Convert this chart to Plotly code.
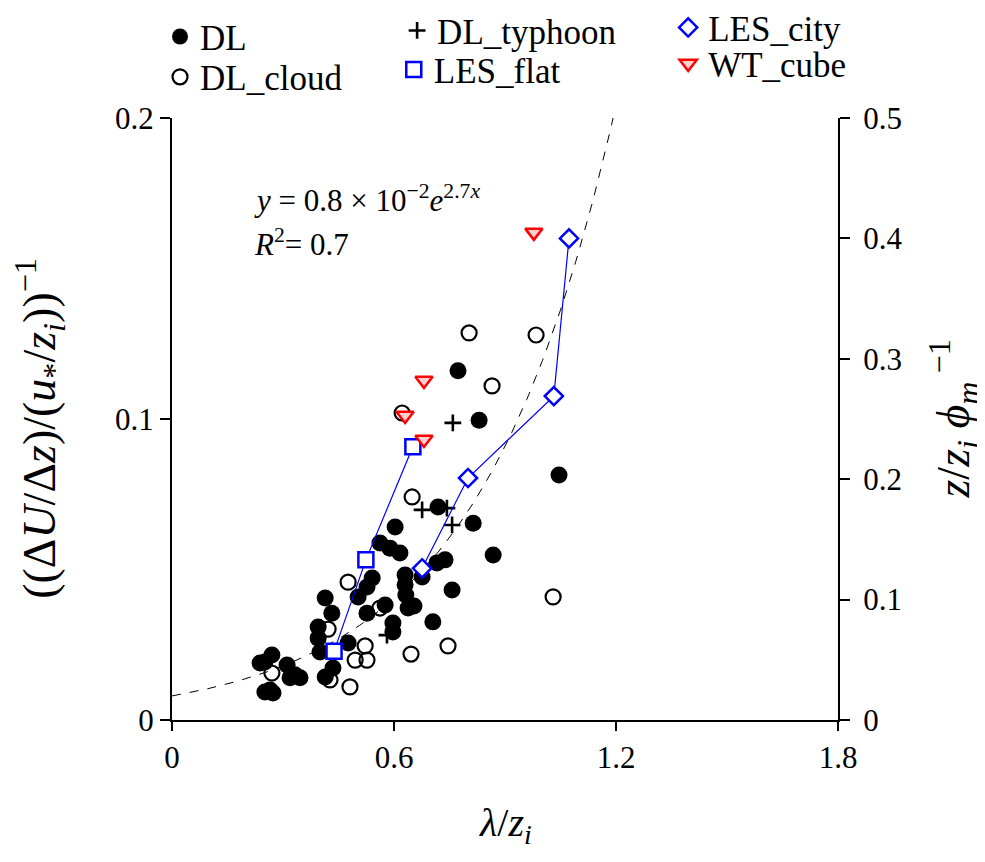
import numpy as np
import plotly.graph_objects as go

# ---------------- data ----------------
dl_x = [0.773, 0.830, 1.046, 0.814, 0.868, 0.757, 0.738, 0.716, 0.705, 0.719,
        0.603, 0.562, 0.589, 0.616, 0.630, 0.630, 0.632, 0.676, 0.638, 0.654,
        0.597, 0.597, 0.576, 0.541, 0.527, 0.503, 0.527, 0.476, 0.414, 0.432,
        0.395, 0.395, 0.400, 0.435, 0.414, 0.270, 0.251, 0.238, 0.311, 0.332,
        0.346, 0.319, 0.265, 0.251, 0.273]
dl_y = [0.116, 0.0996, 0.0814, 0.0654, 0.0548, 0.0432, 0.0532, 0.0522, 0.0326, 0.0708,
        0.0641, 0.0588, 0.0571, 0.0555, 0.0482, 0.0449, 0.0415, 0.0475, 0.0372, 0.0379,
        0.0322, 0.0292, 0.0382, 0.0472, 0.0442, 0.0409, 0.0355, 0.0256, 0.0405, 0.0355,
        0.0309, 0.0272, 0.0226, 0.0173, 0.0143, 0.0216, 0.0193, 0.0189, 0.0183, 0.0150,
        0.0140, 0.0140, 0.0100, 0.0093, 0.0090]

cloud_x = [0.270, 0.422, 0.427, 0.476, 0.481, 0.495, 0.527, 0.522, 0.562, 0.646,
           0.746, 0.649, 0.622, 0.803, 0.984, 0.865, 1.030]
cloud_y = [0.0156, 0.0302, 0.0133, 0.0458, 0.0110, 0.0199, 0.0199, 0.0246, 0.0372, 0.0219,
           0.0246, 0.0741, 0.102, 0.1286, 0.1279, 0.111, 0.0409]

typhoon_x = [0.676, 0.743, 0.757, 0.759, 0.581]
typhoon_y = [0.0698, 0.0704, 0.0648, 0.0987, 0.0282]

# right-axis series (z/z_i phi_m^-1)
les_flat_x = [0.438, 0.524, 0.651]
les_flat_y = [0.057, 0.133, 0.227]
les_city_x = [0.676, 0.800, 1.032, 1.073]
les_city_y = [0.126, 0.201, 0.269, 0.400]
wt_x = [0.630, 0.681, 0.681, 0.978]
wt_y = [0.253, 0.282, 0.233, 0.405]

# fitted curve y = a * exp(b x)
fit_a, fit_b = 0.8e-2, 2.7
fit_x = np.linspace(0, 1.2, 200)
fit_y = fit_a * np.exp(fit_b * fit_x)

SERIF = "Liberation Serif"

fig = go.Figure()

fig.add_trace(go.Scatter(x=fit_x, y=fit_y, mode="lines", showlegend=False,
                         line=dict(color="black", width=1, dash="dash"), hoverinfo="skip"))

fig.add_trace(go.Scatter(x=dl_x, y=dl_y, mode="markers", name="DL", legend="legend",
                         marker=dict(symbol="circle", size=17, color="black")))
fig.add_trace(go.Scatter(x=cloud_x, y=cloud_y, mode="markers", name="DL_cloud", legend="legend2",
                         marker=dict(symbol="circle-open", size=15, color="black",
                                     line=dict(width=2.2, color="black"))))
fig.add_trace(go.Scatter(x=typhoon_x, y=typhoon_y, mode="markers", name="DL_typhoon", legend="legend3",
                         marker=dict(symbol="cross-thin", size=12, color="black",
                                     line=dict(width=2.6, color="black"))))

# lines for LES series (right axis)
fig.add_trace(go.Scatter(x=les_flat_x, y=les_flat_y, mode="lines", yaxis="y2", showlegend=False,
                         line=dict(color="blue", width=1.2), hoverinfo="skip"))
fig.add_trace(go.Scatter(x=les_city_x, y=les_city_y, mode="lines", yaxis="y2", showlegend=False,
                         line=dict(color="blue", width=1.2), hoverinfo="skip"))

fig.add_trace(go.Scatter(x=les_flat_x, y=les_flat_y, mode="markers", name="LES_flat", yaxis="y2",
                         legend="legend4",
                         marker=dict(symbol="square", size=15, color="white",
                                     line=dict(width=2.5, color="blue"))))
fig.add_trace(go.Scatter(x=les_city_x, y=les_city_y, mode="markers", name="LES_city", yaxis="y2",
                         legend="legend5",
                         marker=dict(symbol="diamond", size=14, color="white",
                                     line=dict(width=2.5, color="blue"))))
fig.add_trace(go.Scatter(x=wt_x, y=wt_y, mode="markers", name="WT_cube", yaxis="y2",
                         legend="legend6",
                         marker=dict(symbol="triangle-down", size=15, color="#ffd0d0",
                                     line=dict(width=2.5, color="red"))))

axis_common = dict(showgrid=False, zeroline=False, showline=True, linecolor="black",
                   linewidth=2, ticks="outside", tickcolor="black", tickwidth=2,
                   tickfont=dict(family=SERIF, size=31, color="black"))

legend_common = dict(font=dict(family=SERIF, size=35, color="black"), bgcolor="rgba(0,0,0,0)",
                     orientation="v", yanchor="middle", xanchor="left", itemwidth=30)

# the page body adds an 8 px offset; size the figure so the plot area lands where the reference has it
fig.update_layout(
    width=977, height=854,
    margin=dict(l=164, r=147, t=110, b=142, autoexpand=False),
    plot_bgcolor="white", paper_bgcolor="white",
    xaxis=dict(range=[0, 1.8], tickvals=[0, 0.6, 1.2, 1.8], ticktext=["0", "0.6", "1.2", "1.8"],
               ticklen=9, **axis_common),
    yaxis=dict(range=[0, 0.2], tickvals=[0, 0.1, 0.2], ticktext=["0", "0.1", "0.2"],
               ticklen=10, **axis_common),
    yaxis2=dict(range=[0, 0.5], overlaying="y", side="right",
                tickvals=[0, 0.1, 0.2, 0.3, 0.4, 0.5],
                ticktext=["0", "0.1", "0.2", "0.3", "0.4", "0.5"],
                ticklen=10, ticklabelstandoff=7, **axis_common),
    legend=dict(x=-0.018, y=1.135, **legend_common),
    legend2=dict(x=-0.018, y=1.068, **legend_common),
    legend3=dict(x=0.338, y=1.145, **legend_common),
    legend4=dict(x=0.333, y=1.080, **legend_common),
    legend5=dict(x=0.745, y=1.150, **legend_common),
    legend6=dict(x=0.745, y=1.090, **legend_common),
    showlegend=True,
)

ann_font = dict(family=SERIF, size=31, color="black")
fig.add_annotation(xref="paper", yref="paper", x=0.12, y=0.867, xanchor="left", yanchor="middle",
                   showarrow=False, font=ann_font,
                   text="<i>y</i> = 0.8 × 10<sup>−2</sup><i>e</i><sup>2.7<i>x</i></sup>")
fig.add_annotation(xref="paper", yref="paper", x=0.12, y=0.794, xanchor="left", yanchor="middle",
                   showarrow=False, font=ann_font,
                   text="<i>R</i><sup>2</sup>= 0.7")

# axis titles
fig.add_annotation(xref="paper", yref="paper", x=0.5, y=-0.175, xanchor="center", yanchor="middle",
                   showarrow=False, font=dict(family=SERIF, size=40, color="black"),
                   text="<i>λ</i>/<i>z<sub>i</sub></i>")
fig.add_annotation(xref="paper", yref="paper", x=-0.2, y=0.485, xanchor="center", yanchor="middle",
                   showarrow=False, textangle=-90, font=dict(family=SERIF, size=46, color="black"),
                   text="((Δ<i>U</i>/Δ<i>z</i>)/(<i>u</i><sub>*</sub>/<i>z<sub>i</sub></i>))<sup>−1</sup>")
fig.add_annotation(xref="paper", yref="paper", x=1.172, y=0.5, xanchor="center", yanchor="middle",
                   showarrow=False, textangle=-90, font=dict(family=SERIF, size=46, color="black"),
                   text="<i>z</i>/<i>z<sub>i</sub></i> <i>ϕ<sub>m</sub></i><sup> −1</sup>")

fig.write_html("out.html")
